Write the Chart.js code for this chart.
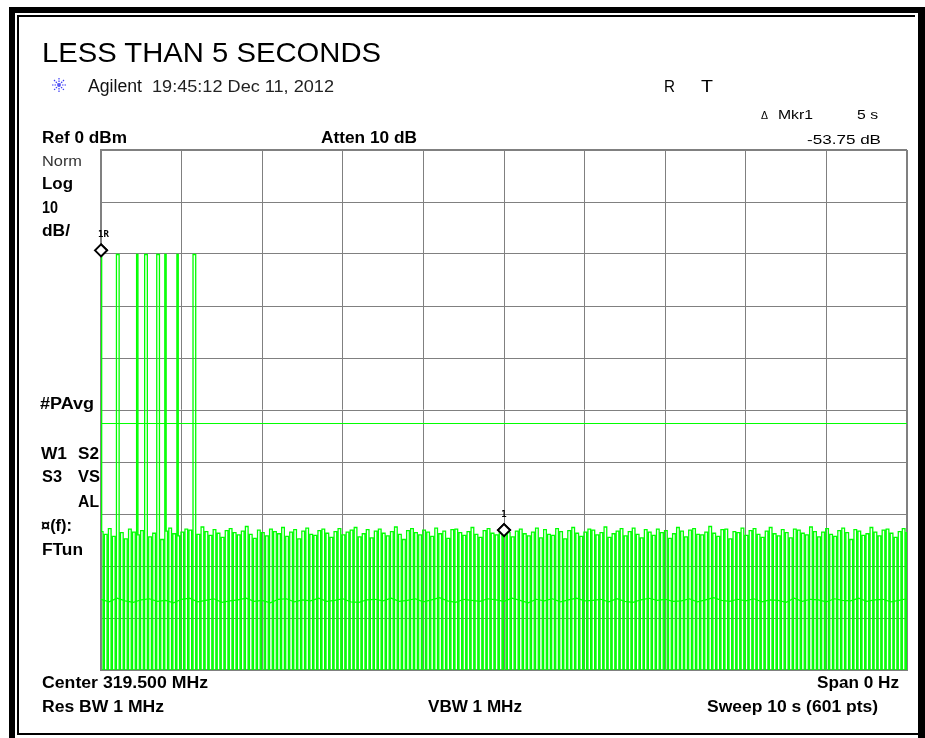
<!DOCTYPE html>
<html>
<head>
<meta charset="utf-8">
<script src="https://cdn.jsdelivr.net/npm/chart.js@4.4.1/dist/chart.umd.min.js"></script>
<style>
html, body { margin: 0; padding: 0; background: #fff; }
#page { position: relative; width: 925px; height: 738px; overflow: hidden; background: #fff; }
#page canvas { position: absolute; left: 0; top: 0; }
.lbl { position: absolute; white-space: nowrap; line-height: 1; font-family: "Liberation Sans", Arial, sans-serif; color: #000; transform-origin: 0 0; }
.frame { position: absolute; background: #000; }
</style>
</head>
<body>
<div id="page">
  <canvas id="spectrum" width="925" height="738"></canvas>
  <div class="frame" style="left:9px;top:7px;width:916px;height:6px"></div>
  <div class="frame" style="left:17px;top:15px;width:898px;height:2px"></div>
  <div class="frame" style="left:9px;top:7px;width:6px;height:731px"></div>
  <div class="frame" style="left:17px;top:15px;width:2px;height:720px"></div>
  <div class="frame" style="left:918px;top:7px;width:7px;height:731px"></div>
  <div class="frame" style="left:17px;top:733px;width:901px;height:2px"></div>
  <svg style="position:absolute;left:51px;top:77px" width="16" height="16" viewBox="0 0 16 16">
    <g stroke="#3b3bf5" stroke-width="1.2" stroke-dasharray="1.5 1">
      <line x1="8" y1="1" x2="8" y2="15"/>
      <line x1="1" y1="8" x2="15" y2="8"/>
      <line x1="3" y1="3" x2="13" y2="13"/>
      <line x1="13" y1="3" x2="3" y2="13"/>
    </g>
  </svg>
</div>
<script>
// sweep: 10 s, 601 pts, Ref 0 dBm, 10 dB/div
const sweepSeconds = 10;
const pointCount = 601;
const refLevel = 0;
const bottomLevel = -100;

// noise peak of each short burst (dBm), one per 3 trace points
const noisePeaks = [
  -73.4,-73.9,-72.8,-74.3,-73.1,-73.6,-74.8,-72.9,-73.5,-74.0,
  -73.2,-72.6,-74.4,-73.7,-73.0,-74.9,-73.3,-72.7,-73.8,-74.2,
  -73.5,-72.9,-73.1,-74.6,-73.9,-72.5,-73.4,-74.1,-73.0,-73.7,
  -74.5,-73.2,-72.8,-73.6,-74.0,-73.3,-72.4,-73.9,-74.7,-73.1,
  -73.6,-74.2,-72.9,-73.4,-73.8,-72.6,-74.3,-73.5,-73.0,-74.8,
  -73.3,-72.7,-73.9,-74.1,-73.2,-72.9,-73.7,-74.5,-73.4,-72.8,
  -74.0,-73.5,-73.1,-72.6,-74.4,-73.8,-73.0,-74.6,-73.3,-72.9,
  -73.7,-74.2,-73.4,-72.5,-73.9,-74.9,-73.2,-72.8,-73.6,-74.0,
  -73.1,-73.5,-74.3,-72.7,-73.8,-73.3,-74.7,-73.0,-72.9,-73.6,
  -74.1,-73.4,-72.6,-73.9,-74.5,-73.2,-72.8,-73.7,-74.0,-73.1,
  -72.4,-73.6,-74.4,-73.3,-72.9,-73.8,-74.2,-73.5,-72.7,-74.6,
  -73.0,-73.9,-74.1,-72.8,-73.4,-74.8,-73.2,-72.6,-73.7,-74.3,
  -73.5,-72.9,-73.1,-74.0,-73.6,-72.5,-74.5,-73.8,-73.3,-72.8,
  -74.2,-73.4,-72.7,-73.9,-74.6,-73.0,-73.5,-74.1,-72.9,-73.6,
  -73.2,-74.7,-73.8,-72.6,-73.3,-74.4,-73.1,-72.8,-73.9,-74.0,
  -73.5,-72.4,-73.7,-74.3,-73.0,-72.9,-74.8,-73.4,-73.6,-72.7,
  -74.1,-73.2,-72.8,-73.9,-74.5,-73.3,-72.6,-73.8,-74.2,-73.0,
  -73.6,-74.6,-72.9,-73.1,-73.7,-74.0,-72.5,-73.4,-74.4,-73.5,
  -72.8,-73.9,-74.3,-73.2,-72.7,-73.6,-74.9,-73.0,-73.3,-74.1,
  -73.8,-72.6,-73.5,-74.2,-73.1,-72.9,-73.7,-74.5,-73.4,-72.8,
  -73.6
];

// trace points hit by the remote's strong pulses
const pulsePoints = [0, 12, 13, 27, 33, 34, 42, 43, 48, 57, 69, 70];
const pulseLevel = -20.1;

// stored trace (S2/S3), sits around -86 dBm
const storedTrace = [
  -86.4,-86.9,-86.2,-86.7,-87.0,-86.5,-86.3,-86.8,-86.6,-87.1,
  -86.4,-86.2,-86.9,-86.6,-86.3,-87.0,-86.7,-86.5,-86.2,-86.8,
  -86.6,-87.1,-86.4,-86.3,-86.9,-86.5,-86.7,-86.2,-86.8,-86.6,
  -86.3,-86.9,-87.0,-86.5,-86.4,-86.7,-86.2,-86.8,-86.6,-86.3,
  -86.9,-86.5,-86.1,-86.7,-87.0,-86.4,-86.6,-86.8,-86.3,-86.5,
  -86.8,-86.2,-86.6,-87.1,-86.4,-86.7,-86.3,-86.9,-86.5,-86.2,
  -86.7,-86.6,-86.4,-86.9,-86.3,-86.8,-87.0,-86.5,-86.2,-86.6,
  -86.4,-86.8,-86.7,-86.3,-86.9,-86.5,-86.1,-86.6,-86.8,-86.4,
  -86.7,-86.3,-86.9,-86.5,-86.6,-87.0,-86.2,-86.8,-86.4,-86.5,
  -86.9,-86.3,-86.6,-86.7,-86.2,-86.8,-86.5,-86.4,-86.9,-86.6,
  -86.3
];

const displayLine = -52.6;

const markerNames = ['1R', '1'];
const markerTimes = [0, 5];
const markerLevels = [-19.3, -73.1];

// build trace 1: two samples at the burst peak, one on the floor
const trace1 = [];
for (let i = 0; i < pointCount; i++) {
  const k = Math.min(Math.floor(i / 3), noisePeaks.length - 1);
  let v = (i % 3 < 2) ? noisePeaks[k] : bottomLevel;
  if (pulsePoints.includes(i)) v = pulseLevel;
  trace1.push({ x: i * sweepSeconds / (pointCount - 1), y: v });
}
const trace2 = storedTrace.map((v, i) => ({ x: i * sweepSeconds / (storedTrace.length - 1), y: v }));
const markerPts = markerTimes.map((t, i) => ({ x: t, y: markerLevels[i] }));

const gridColor = '#808080';
const edgeWidth = c => (c.index === 0 || c.index === 10) ? 2 : 1;

// markers sit above the grid, so redraw them at the end
const markersOnTop = {
  id: 'markersOnTop',
  afterDraw(chart) {
    chart.getDatasetMeta(3).controller.draw();
  }
};

const chart = new Chart(document.getElementById('spectrum'), {
  type: 'line',
  data: {
    datasets: [
      { label: 'Trace 1', data: trace1, borderColor: '#00ff00', borderWidth: 1.3, pointRadius: 0, stepped: 'middle' },
      { label: 'Trace 2', data: trace2, borderColor: '#00ff00', borderWidth: 1.2, pointRadius: 0, tension: 0 },
      { label: 'Display line', data: [{ x: 0, y: displayLine }, { x: sweepSeconds, y: displayLine }],
        borderColor: '#00ff00', borderWidth: 1, pointRadius: 0 },
      { label: 'Markers', type: 'scatter', data: markerPts, showLine: false, pointStyle: 'rectRot',
        pointRadius: 6, borderColor: '#000', borderWidth: 2, backgroundColor: '#fff' }
    ]
  },
  options: {
    responsive: false,
    animation: false,
    events: [],
    layout: { padding: { left: 101, top: 150, right: 18, bottom: 68 } },
    plugins: { legend: { display: false }, tooltip: { enabled: false } },
    scales: {
      x: {
        type: 'linear', min: 0, max: sweepSeconds, z: 1,
        ticks: { display: false, stepSize: 1 },
        grid: { color: gridColor, lineWidth: edgeWidth, drawTicks: false },
        border: { color: gridColor, width: 2 }
      },
      y: {
        min: bottomLevel, max: refLevel, z: 1,
        ticks: { display: false, stepSize: 10 },
        grid: { color: gridColor, lineWidth: edgeWidth, drawTicks: false },
        border: { color: gridColor, width: 2 }
      }
    }
  },
  plugins: [markersOnTop]
});

// page text, placed by baseline
const page = document.getElementById('page');
function addLabel(text, x, base, size, bold, w, extra) {
  const d = document.createElement('div');
  d.className = 'lbl';
  d.textContent = text;
  d.style.fontSize = size + 'px';
  d.style.fontWeight = bold ? 'bold' : 'normal';
  d.style.left = x + 'px';
  d.style.top = (base - 0.8465 * size) + 'px';
  if (extra) Object.assign(d.style, extra);
  page.appendChild(d);
  if (w) {
    const real = d.getBoundingClientRect().width;
    d.style.transform = 'scaleX(' + (w / real) + ')';
  }
  return d;
}

addLabel('LESS THAN 5 SECONDS', 42, 63, 28, false, 339);
addLabel('Agilent', 88, 92, 18, false, 54, { color: '#111' });
addLabel('19:45:12  Dec 11, 2012', 152, 92, 17, false, 182, { color: '#222' });
addLabel('R', 664, 93, 16, false, 11);
addLabel('T', 701, 93, 16, false, 12);
addLabel('\u0394', 761, 119, 11, false, 7);
addLabel('Mkr1', 778, 119, 13, false, 35);
addLabel('5 s', 857, 119, 13, false, 21);
addLabel('-53.75 dB', 807, 144, 13, false, 74);
addLabel('Ref 0 dBm', 42, 144, 16, true, 85);
addLabel('Atten 10 dB', 321, 144, 16, true, 96);
addLabel('Norm', 42, 166, 15, false, 40, { color: '#333' });
addLabel('Log', 42, 190, 16, true, 31);
addLabel('10', 42, 214, 16, true, 16);
addLabel('dB/', 42, 237, 16, true, 28);
addLabel('#PAvg', 40, 410, 16, true, 54);
addLabel('W1', 41, 460, 16, true, 26);
addLabel('S2', 78, 460, 16, true, 21);
addLabel('S3', 42, 483, 16, true, 20);
addLabel('VS', 78, 483, 16, true, 22);
addLabel('AL', 78, 508, 16, true, 21);
addLabel('\u00a4(f):', 41, 532, 16, true, 31);
addLabel('FTun', 42, 556, 16, true, 41);
addLabel('Center 319.500 MHz', 42, 689, 16, true, 166);
addLabel('Span 0 Hz', 817, 689, 16, true, 82);
addLabel('Res BW 1 MHz', 42, 713, 16, true, 122);
addLabel('VBW 1 MHz', 428, 713, 16, true, 94);
addLabel('Sweep 10 s (601 pts)', 707, 713, 16, true, 171);

// marker labels
markerNames.forEach((name, i) => {
  const px = chart.scales.x.getPixelForValue(markerTimes[i]);
  const py = chart.scales.y.getPixelForValue(markerLevels[i]);
  const d = addLabel(name, 0, py - 13, 9, true, 0, { fontFamily: '"DejaVu Sans Mono", monospace' });
  const wd = d.getBoundingClientRect().width;
  d.style.left = (px - wd / 2 + (name.length > 1 ? wd / 2 - 3 : 0)) + 'px';
});
</script>
</body>
</html>
